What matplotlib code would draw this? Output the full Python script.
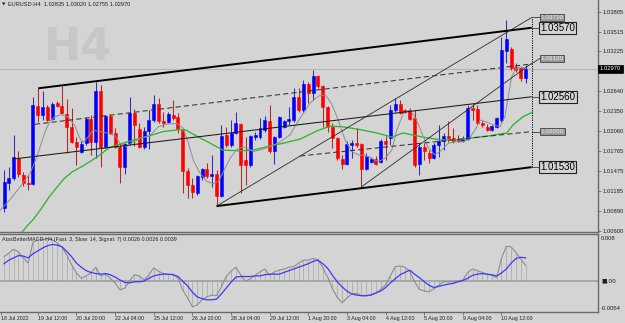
import matplotlib
matplotlib.use('Agg')
import matplotlib.pyplot as plt
import matplotlib.transforms as mtransforms

W, H = 625, 323
BG = '#d4d4d4'
FONT = ['Liberation Sans', 'DejaVu Sans']

# ---------------- data ----------------
opens = [
    1.0093, 1.0130, 1.0137, 1.0166, 1.0142, 1.0130, 1.0128, 1.0243, 1.0229, 1.0241,
    1.0224, 1.0247, 1.0243, 1.0231, 1.0212, 1.0190, 1.0175, 1.0188, 1.0224, 1.0190,
    1.0264, 1.0183, 1.0228, 1.0203, 1.0183, 1.0153, 1.0188, 1.0232, 1.0209, 1.0183,
    1.0206, 1.0222, 1.0245, 1.0221, 1.0219, 1.0229, 1.0226, 1.0209, 1.0147, 1.0127,
    1.0115, 1.0139, 1.0150, 1.0140, 1.0143, 1.0111, 1.0200, 1.0185, 1.0203, 1.0216,
    1.0163, 1.0156, 1.0197, 1.0197, 1.0207, 1.0221, 1.0177, 1.0197, 1.0212, 1.0221,
    1.0222, 1.0256, 1.0237, 1.0275, 1.0262, 1.0286, 1.0272, 1.0241, 1.0212, 1.0196,
    1.0165, 1.0158, 1.0185, 1.0188, 1.0187, 1.0150, 1.0161, 1.0165, 1.0161, 1.0191,
    1.0196, 1.0237, 1.0245, 1.0237, 1.0237, 1.0225, 1.0158, 1.0183, 1.0174, 1.0166,
    1.0185, 1.0191, 1.0199, 1.0196, 1.0194, 1.0191, 1.0194, 1.0240, 1.0238, 1.0218,
    1.0212, 1.0207, 1.0212, 1.0222, 1.0323, 1.0326, 1.0300, 1.0298, 1.02835]
highs = [
    1.0149, 1.0153, 1.0200, 1.0177, 1.0146, 1.0142, 1.0256, 1.0269, 1.0264, 1.0244,
    1.0248, 1.0250, 1.0272, 1.0253, 1.0240, 1.0197, 1.0191, 1.0226, 1.0229, 1.0278,
    1.0273, 1.0229, 1.0231, 1.0210, 1.0188, 1.0188, 1.0256, 1.0238, 1.0218, 1.0212,
    1.0237, 1.0259, 1.0254, 1.0234, 1.0234, 1.0251, 1.0232, 1.0210, 1.0152, 1.0137,
    1.0142, 1.0152, 1.0159, 1.0171, 1.0149, 1.0215, 1.0212, 1.0222, 1.0234, 1.0218,
    1.0197, 1.0200, 1.0204, 1.0225, 1.0228, 1.0244, 1.0199, 1.0228, 1.0222, 1.0241,
    1.0269, 1.0269, 1.0281, 1.0278, 1.0295, 1.0288, 1.0273, 1.0243, 1.0218, 1.0197,
    1.0171, 1.0191, 1.0193, 1.0210, 1.0188, 1.0174, 1.0168, 1.0169, 1.0194, 1.0199,
    1.0244, 1.0254, 1.0251, 1.0238, 1.0240, 1.0237, 1.0188, 1.0188, 1.0178, 1.0188,
    1.0215, 1.0203, 1.0221, 1.0210, 1.0200, 1.0199, 1.0244, 1.0245, 1.0244, 1.0221,
    1.0216, 1.0215, 1.0226, 1.0343, 1.0368, 1.0329, 1.0305, 1.0300, 1.03020]
lows = [
    1.0087, 1.0120, 1.0134, 1.0139, 1.0125, 1.0120, 1.0127, 1.0219, 1.0222, 1.0221,
    1.0222, 1.0241, 1.0231, 1.0174, 1.0188, 1.0156, 1.0174, 1.0185, 1.0171, 1.0166,
    1.0153, 1.0181, 1.0202, 1.0181, 1.0130, 1.0143, 1.0185, 1.0184, 1.0181, 1.0180,
    1.0180, 1.0219, 1.0218, 1.0212, 1.0218, 1.0222, 1.0203, 1.0115, 1.0108, 1.0108,
    1.0112, 1.0134, 1.0137, 1.0124, 1.0096, 1.0109, 1.0183, 1.0183, 1.0202, 1.0115,
    1.0127, 1.0153, 1.0193, 1.0194, 1.0204, 1.0174, 1.0158, 1.0196, 1.0210, 1.0215,
    1.0219, 1.0234, 1.0234, 1.0247, 1.0251, 1.0269, 1.0212, 1.0204, 1.0181, 1.0163,
    1.0150, 1.0156, 1.0166, 1.0183, 1.0124, 1.0149, 1.0159, 1.0156, 1.0159, 1.0163,
    1.0185, 1.0234, 1.0231, 1.0232, 1.0222, 1.0153, 1.0142, 1.0163, 1.0159, 1.0165,
    1.0168, 1.0178, 1.0190, 1.0188, 1.0190, 1.0190, 1.0193, 1.0222, 1.0216, 1.0212,
    1.0206, 1.0206, 1.0210, 1.0219, 1.0305, 1.0295, 1.0292, 1.0279, 1.02755]
closes = [
    1.0131, 1.0137, 1.0168, 1.0143, 1.0130, 1.0128, 1.0244, 1.0229, 1.0241, 1.0222,
    1.0245, 1.0243, 1.0232, 1.0212, 1.0190, 1.0183, 1.0187, 1.0224, 1.0190, 1.0264,
    1.0183, 1.0228, 1.0203, 1.0183, 1.0153, 1.0187, 1.0232, 1.0215, 1.0183, 1.0206,
    1.0222, 1.0245, 1.0221, 1.0218, 1.0231, 1.0225, 1.0209, 1.0147, 1.0127, 1.0117,
    1.0140, 1.0150, 1.0140, 1.0143, 1.0111, 1.0199, 1.0185, 1.0203, 1.0218, 1.0156,
    1.0156, 1.0199, 1.0200, 1.0210, 1.0222, 1.0177, 1.0197, 1.0226, 1.0221, 1.0224,
    1.0256, 1.0237, 1.0275, 1.0262, 1.0286, 1.0272, 1.0241, 1.0212, 1.0196, 1.0166,
    1.0158, 1.0187, 1.0188, 1.0185, 1.0150, 1.0169, 1.0165, 1.0158, 1.0191, 1.0187,
    1.0237, 1.0245, 1.0232, 1.0234, 1.0224, 1.0156, 1.0183, 1.0177, 1.0166, 1.0185,
    1.0191, 1.0199, 1.0196, 1.0191, 1.0191, 1.0194, 1.0240, 1.0237, 1.0218, 1.0215,
    1.0207, 1.0213, 1.0225, 1.0324, 1.0341, 1.0298, 1.0295, 1.0283, 1.02970]

# slow MA (green) and fast MA (gray): (bar position, price)
green_pos = [2.3, 4.8, 6.0, 7.5, 9.5, 11.0, 12.4, 14.1, 16.4, 19.3, 21.9, 24.6, 27.1,
             30.2, 32.9, 36.4, 37.7, 40.0, 42.7, 45.3, 48.9, 51.6, 54.5, 57.8, 61.3,
             64.8, 67.5, 70.2, 73.7, 77.2, 80.3, 82.6, 86.7, 90.3, 93.8, 97.1, 100.6,
             104.1, 105.4, 107.5, 109.3]
green_val = [1.0046, 1.0067, 1.0076, 1.0090, 1.0111, 1.0124, 1.0136, 1.0146, 1.0155,
             1.0168, 1.0182, 1.0188, 1.0193, 1.0199, 1.0205, 1.0208, 1.0207, 1.0198,
             1.0188, 1.0178, 1.0177, 1.0178, 1.0183, 1.0188, 1.0194, 1.0206, 1.0213,
             1.0212, 1.0208, 1.0203, 1.0197, 1.0203, 1.0197, 1.0193, 1.0193, 1.0196,
             1.0199, 1.0203, 1.0215, 1.0227, 1.0233]
gray_pos = [-0.8, 1.2, 3.3, 5.4, 6.4, 7.5, 8.5, 9.5, 10.6, 11.9, 13.3, 14.7, 15.7, 16.4,
            17.5, 18.5, 19.9, 21.3, 23.0, 24.0, 25.4, 26.4, 28.2, 30.2, 31.9, 33.7, 35.8,
            37.1, 38.2, 39.2, 40.6, 42.0, 43.3, 44.4, 45.4, 46.8, 48.2, 49.5, 50.2, 51.6,
            53.0, 55.1, 57.1, 59.2, 60.6, 62.0, 63.4, 65.1, 66.5, 67.8, 69.2, 70.6, 72.0,
            73.4, 74.7, 76.1, 77.5, 78.9, 80.3, 81.3, 82.7, 84.1, 85.4, 86.8, 87.8, 89.2,
            90.6, 92.0, 93.4, 94.8, 96.1, 97.5, 98.6, 99.9, 101.3, 102.7, 103.7, 104.4,
            105.1, 105.8, 106.8, 107.8]
gray_val = [1.0090, 1.0105, 1.0124, 1.0144, 1.0161, 1.0183, 1.0205, 1.0220, 1.0227,
            1.0230, 1.0226, 1.0213, 1.0195, 1.0189, 1.0198, 1.0207, 1.0205, 1.0203,
            1.0199, 1.0188, 1.0183, 1.0188, 1.0195, 1.0199, 1.0212, 1.0216, 1.0217,
            1.0210, 1.0188, 1.0163, 1.0144, 1.0132, 1.0129, 1.0132, 1.0146, 1.0166,
            1.0179, 1.0183, 1.0181, 1.0176, 1.0178, 1.0183, 1.0190, 1.0200, 1.0217,
            1.0232, 1.0247, 1.0257, 1.0259, 1.0246, 1.0222, 1.0193, 1.0176, 1.0171,
            1.0170, 1.0166, 1.0161, 1.0166, 1.0178, 1.0207, 1.0232, 1.0237, 1.0222,
            1.0198, 1.0182, 1.0171, 1.0178, 1.0188, 1.0190, 1.0190, 1.0193, 1.0207,
            1.0222, 1.0219, 1.0215, 1.0212, 1.0227, 1.0256, 1.0285, 1.0295, 1.0300,
            1.0298]

# trend lines: (start bar, start price, end bar, end price)
line_end = 109.25
chan_top = (7.1, 1.02684, line_end, 1.03570)
chan_mid = (1.9, 1.01649, line_end, 1.02560)
chan_bot = (44.0, 1.00960, line_end, 1.01530)
dash_up = (6.4, 1.02157, line_end, 1.03041)
dash_lo = (61.3, 1.01693, line_end, 1.02050)
steep1 = (44.0, 1.00960, line_end, 1.03720)
steep2 = (74.0, 1.01240, line_end, 1.03050)
big_labels = [1.03570, 1.02560, 1.01530]
small_labels = [1.03720, 1.03120, 1.02050]
bid = 1.02970

price_ticks = [1.03805, 1.03515, 1.03225, 1.02640, 1.02350, 1.02060,
               1.01765, 1.01475, 1.01185, 1.00890, 1.00600]

macd = [
    0.0041, 0.0047, 0.0054, 0.0049, 0.0039, 0.0030, 0.0066, 0.0070, 0.0071, 0.0072,
    0.0070, 0.0065, 0.0057, 0.0044, 0.0027, 0.0013, 0.0004, 0.0008, 0.0013, 0.0023,
    0.0008, 0.0011, 0.0004, -0.0004, -0.0016, -0.0013, -0.0001, 0.0010, 0.0008, 0.0001,
    0.0010, 0.0022, 0.0016, 0.0012, 0.0010, 0.0011, 0.0004, -0.0016, -0.0030, -0.0045,
    -0.0042, -0.0033, -0.0028, -0.0025, -0.0026, -0.0011, 0.0007, 0.0016, 0.0023, 0.0010,
    -0.0001, 0.0003, 0.0009, 0.0015, 0.0020, 0.0009, 0.0015, 0.0018, 0.0020, 0.0023,
    0.0024, 0.0030, 0.0035, 0.0035, 0.0038, 0.0036, 0.0022, 0.0006, -0.0014, -0.0029,
    -0.0038, -0.0030, -0.0023, -0.0022, -0.0026, -0.0026, -0.0024, -0.0022, -0.0015, -0.0007,
    0.0008, 0.0024, 0.0025, 0.0023, 0.0016, -0.0002, -0.0015, -0.0018, -0.0019, -0.0014,
    -0.0008, -0.0002, -0.0002, -0.0002, -0.0001, 0.0001, 0.0014, 0.0020, 0.0017, 0.0014,
    0.0011, 0.0009, 0.0005, 0.0038, 0.0059, 0.0058, 0.0048, 0.0037, 0.0026]
signal = [
    0.0029, 0.0035, 0.0039, 0.0043, 0.0042, 0.0039, 0.0046, 0.0051, 0.0056, 0.0060,
    0.0062, 0.0061, 0.0058, 0.0050, 0.0041, 0.0030, 0.0023, 0.0017, 0.0014, 0.0012,
    0.0011, 0.0012, 0.0010, 0.0006, 0.0001, -0.0003, -0.0004, -0.0002, -0.0002, -0.0001,
    0.0004, 0.0008, 0.0010, 0.0011, 0.0011, 0.0010, 0.0007, -0.0001, -0.0009, -0.0020,
    -0.0028, -0.0031, -0.0033, -0.0033, -0.0032, -0.0023, -0.0013, -0.0003, 0.0006, 0.0007,
    0.0007, 0.0007, 0.0008, 0.0008, 0.0010, 0.0011, 0.0011, 0.0011, 0.0014, 0.0017,
    0.0020, 0.0023, 0.0026, 0.0029, 0.0033, 0.0035, 0.0029, 0.0021, 0.0009, -0.0002,
    -0.0011, -0.0018, -0.0023, -0.0025, -0.0026, -0.0026, -0.0025, -0.0021, -0.0018, -0.0012,
    -0.0004, 0.0003, 0.0010, 0.0014, 0.0018, 0.0011, 0.0005, -0.0002, -0.0008, -0.0012,
    -0.0010, -0.0008, -0.0006, -0.0005, -0.0002, 0.0000, 0.0004, 0.0009, 0.0011, 0.0012,
    0.0011, 0.0010, 0.0008, 0.0013, 0.0020, 0.0030, 0.0038, 0.0040, 0.0039]

time_pos = [-0.6, 7, 15, 23, 31, 39, 47, 55, 63, 71, 79, 87, 95, 103]
time_labels = ['18 Jul 2022', '19 Jul 12:00', '20 Jul 20:00', '22 Jul 04:00',
               '25 Jul 12:00', '26 Jul 20:00', '28 Jul 04:00', '29 Jul 12:00',
               '1 Aug 20:00', '3 Aug 04:00', '4 Aug 12:00', '5 Aug 20:00',
               '9 Aug 04:00', '10 Aug 12:00']

# ---------------- figure ----------------
plt.rcParams['font.family'] = FONT
fig = plt.figure(figsize=(W / 100, H / 100), dpi=100, facecolor=BG)
AX_R = 598 / W
XL, XR = -0.83, 122.98

ax = fig.add_axes([0, (H - 232) / H, AX_R, 232 / H], facecolor=BG)
ax.set_xlim(XL, XR)
ax.set_ylim(1.00581, 1.03976)
ax2 = fig.add_axes([0, (H - 312) / H, AX_R, 78 / H], facecolor=BG)
ax2.set_xlim(XL, XR)
ax2.set_ylim(-0.0054, 0.008)

SP = '#6a6a6a'
for a in (ax, ax2):
    a.spines['left'].set_visible(False)
    for s in ('right', 'bottom', 'top'):
        a.spines[s].set_color(SP)
        a.spines[s].set_linewidth(1.0)
ax.spines['top'].set_visible(False)

# watermark + title
fig.text(78 / W, 1 - 47 / H, 'H4', fontsize=32, fontweight='bold', color='#c7c7c7',
         ha='center', va='center', family='DejaVu Sans', zorder=0)
fig.text(2 / W, 1 - 4.5 / H, '\u25bc', fontsize=3.2, ha='left', va='center',
         family='DejaVu Sans', color='#202020')
fig.text(8 / W, 1 - 4.5 / H,
         'EURUSD.H4  %.5f %.5f %.5f %.5f' % (opens[-1], highs[-1], lows[-1], closes[-1]),
         fontsize=4.1, ha='left', va='center', color='#202020')

# bid line
ax.axhline(bid, color='#b6b6b6', lw=0.8, zorder=1)

# candles
n = len(opens)
for i in range(n):
    o, h, l, c = opens[i], highs[i], lows[i], closes[i]
    up = c >= o
    col = '#0000ff' if up else '#ff0000'
    wcol = '#3030b0' if up else '#b02828'
    ax.vlines(i, l, h, color=wcol, lw=0.75, zorder=2)
    ax.bar(i, c - o, bottom=o, width=0.62, color=col, edgecolor=col, lw=0.4, zorder=2.5)

# moving averages
ax.plot(green_pos, green_val, color='#2fb52f', lw=0.95, zorder=3)
ax.plot(gray_pos, gray_val, color='#8e8e8e', lw=0.7, zorder=3)

# trend lines
def seg(L, **kw):
    ax.plot([L[0], L[2]], [L[1], L[3]], zorder=4, solid_capstyle='butt', **kw)

seg(chan_top, color='#000000', lw=1.4)
seg(chan_bot, color='#000000', lw=1.4)
seg(chan_mid, color='#1a1a1a', lw=0.75)
seg(dash_up, color='#333333', lw=0.75, dashes=(5, 3))
seg(dash_lo, color='#333333', lw=0.75, dashes=(5, 3))
seg(steep1, color='#2a2a2a', lw=0.6)
seg(steep2, color='#2a2a2a', lw=0.6)
ax.plot([line_end, line_end], [min(big_labels), max(small_labels)], color='#000000',
        lw=0.7, dashes=(1.2, 1.2), zorder=4)

LBL_X = 110.9
ends = {1.03570: chan_top[3], 1.02560: chan_mid[3], 1.01530: chan_bot[3],
        1.03720: steep1[3], 1.03120: dash_up[3], 1.02050: dash_lo[3]}
for v in big_labels + small_labels:
    ax.plot([line_end, LBL_X], [ends[v], v], color='#3a3a3a', lw=0.6, zorder=4)
for v in big_labels:
    ax.text(LBL_X + 0.15, v, '%.5f' % v, fontsize=7, ha='left', va='center', color='black',
            zorder=6, bbox=dict(boxstyle='square,pad=0.12', fc=BG, ec='#202020', lw=0.8))
for v in small_labels:
    ax.text(LBL_X + 0.15, v, '%.5f' % v, fontsize=4.6, ha='left', va='center',
            color='#f2f2f2', zorder=6,
            bbox=dict(boxstyle='square,pad=0.12', fc='#9a9a9a', ec='#404040', lw=0.6))

# price axis
ax.yaxis.tick_right()
ax.set_yticks(price_ticks)
ax.set_yticklabels(['%.5f' % v for v in price_ticks])
ax.tick_params(axis='y', length=2, width=0.6, color=SP, pad=1.5, labelsize=4.2,
               labelcolor='#202020')
ax.set_xticks([])
tr = mtransforms.blended_transform_factory(ax.transAxes, ax.transData)
ax.text(1.003, bid, '%.5f' % bid, transform=tr, fontsize=4.2, color='white',
        ha='left', va='center', zorder=7,
        bbox=dict(boxstyle='square,pad=0.25', fc='black', ec='black', lw=0.5))

# MACD panel
ax2.axhline(0, color='#a4a4a4', lw=1.3, zorder=1)
ax2.vlines(range(n), 0, macd, color='#a6a6a6', lw=0.5, zorder=2)
ax2.plot(range(n), macd, color='#8a8a8a', lw=0.75, zorder=3)
ax2.plot(range(n), signal, color='#3a3aff', lw=0.9, zorder=4)
ax2.set_yticks([])
ax2.set_xticks(time_pos)
ax2.set_xticklabels(time_labels, ha='left', fontsize=3.8, color='#202020')
ax2.tick_params(axis='x', length=2, width=0.6, color=SP, pad=1.2)
fig.text(2 / W, 1 - 239.5 / H,
         'AtasBetterMACD-H4 (Fast: 3, Slow: 14, Signal: 7) %.4f %.4f %.4f'
         % (macd[-1], macd[-1], signal[-1]),
         fontsize=3.9, ha='left', va='center', color='#202020')
fig.text(601 / W, 1 - 238 / H, '0.008', fontsize=4.2, ha='left', va='center', color='#202020')
fig.text(601 / W, 1 - 281 / H, '\u25a0.00', fontsize=4.2, ha='left', va='center',
         color='#202020', family='DejaVu Sans')
fig.text(601 / W, 1 - 308.5 / H, '-0.0054', fontsize=4.2, ha='left', va='center',
         color='#202020')

fig.savefig('out.png', dpi=100, facecolor=BG)
